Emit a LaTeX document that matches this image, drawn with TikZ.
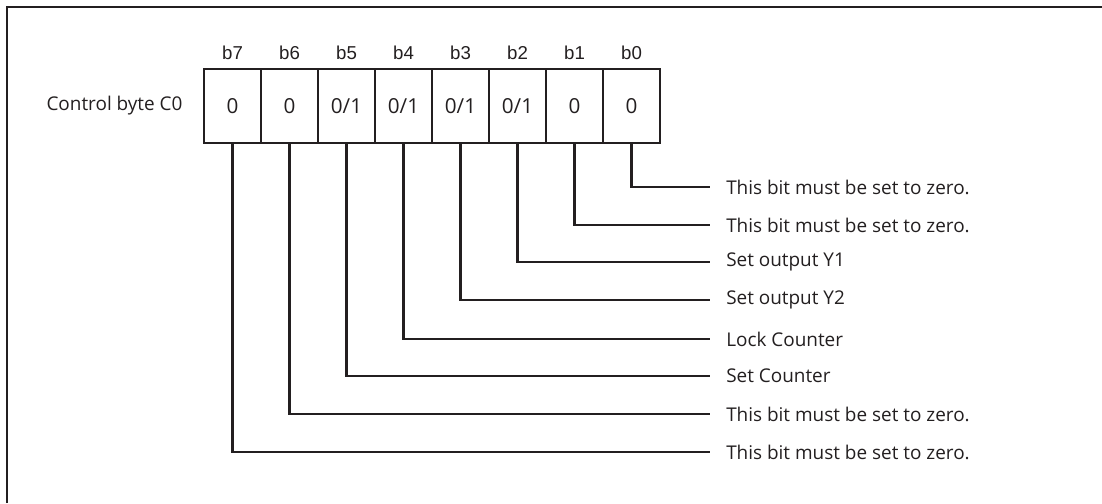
\documentclass[tikz,border=0pt]{standalone}
\usepackage{fontspec}
\setmainfont{Open Sans}
\newfontfamily\bitfont{Liberation Sans}
\definecolor{ink}{RGB}{35,31,32}
\begin{document}
\begin{tikzpicture}[x=0.75pt,y=-0.75pt,
  cell/.style={draw=ink, line width=1.9pt, minimum width=42.75pt, minimum height=55.5pt, inner sep=0pt, font=\fontsize{15.5}{17}\selectfont, text=ink},
  bitlbl/.style={font=\bitfont\fontsize{14}{16}\selectfont, text=ink, inner sep=0pt},
  desc/.style={anchor=west, inner xsep=12pt, inner ysep=0pt, font=\fontsize{14.2}{16}\selectfont, text=ink},
  conn/.style={draw=ink, line width=1.9pt}]
\useasboundingbox (0,0) rectangle (1102,503);
\draw[line width=1.9pt, ink] (7,503) -- (7,7) -- (1102,7);
% cells
\node[cell] (c7) at (232.5,106) {0};
\node[cell] (c6) at (289.5,106) {0};
\node[cell] (c5) at (346.5,106) {0/1};
\node[cell] (c4) at (403.5,106) {0/1};
\node[cell] (c3) at (460.5,106) {0/1};
\node[cell] (c2) at (517.5,106) {0/1};
\node[cell] (c1) at (574.5,106) {0};
\node[cell] (c0) at (631.5,106) {0};
% bit labels
\foreach \i in {0,...,7} {
  \node[bitlbl] (b\i) at ([yshift=11pt]c\i.north) {b\i};
}
\node[anchor=east, inner sep=0pt, font=\fontsize{14.2}{16}\selectfont, text=ink] (title) at ([xshift=-15pt]c7.west) {Control byte C0};
% descriptions
\node[desc] (d0) at (710,187) {This bit must be set to zero.};
\node[desc] (d1) at (710,225) {This bit must be set to zero.};
\node[desc] (d2) at (710,262) {Set output Y1};
\node[desc] (d3) at (710,300) {Set output Y2};
\node[desc] (d4) at (710,339) {Lock Counter};
\node[desc] (d5) at (710,376) {Set Counter};
\node[desc] (d6) at (710,414) {This bit must be set to zero.};
\node[desc] (d7) at (710,452) {This bit must be set to zero.};
\foreach \i in {0,...,7} {
  \draw[conn] (c\i.south) |- (d\i.west);
}
\end{tikzpicture}
\end{document}
